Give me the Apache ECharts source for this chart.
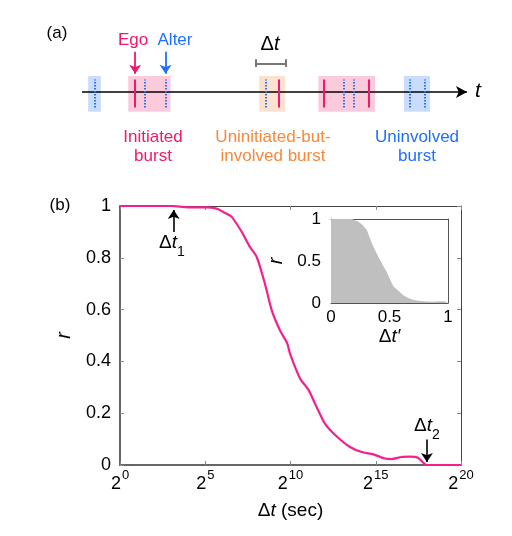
<!DOCTYPE html>
<html>
<head>
<meta charset="utf-8">
<script src="https://cdn.jsdelivr.net/npm/echarts@6/dist/echarts.min.js"></script>
<style>html,body{margin:0;padding:0;background:#fff}#c{width:512px;height:536px}</style>
</head>
<body>
<div id="c"></div>
<script>
// ---- Panel (b) main curve: x = log2(Δt), y = r ----
const mainLog2Dt = [0, 2, 3, 4, 5.08, 5.67, 6.06, 6.55, 7.14, 7.62, 8.02, 8.5, 8.9, 9.38, 9.81, 9.97, 10.56, 11.05, 11.53, 12.02, 12.7, 13.49, 14.18, 14.86, 15.54, 15.93, 16.52, 17.0, 17.5, 17.99, 19, 20];
const mainR      = [1, 1, 1, 0.995, 0.995, 0.99, 0.977, 0.958, 0.90, 0.842, 0.803, 0.70, 0.597, 0.52, 0.469, 0.43, 0.334, 0.291, 0.224, 0.16, 0.111, 0.0695, 0.05, 0.041, 0.025, 0.023, 0.031, 0.032, 0.027, 0, 0, 0];
// ---- Inset: normalized Δt' vs r ----
const insetDt = [0, 0.1, 0.18, 0.235, 0.27, 0.306, 0.349, 0.38, 0.42, 0.476, 0.532, 0.58, 0.617, 0.66, 0.70, 0.76, 0.816, 0.87, 0.93, 0.97, 1];
const insetR  = [1, 1, 1, 0.968, 0.93, 0.87, 0.71, 0.62, 0.51, 0.37, 0.20, 0.14, 0.092, 0.06, 0.04, 0.025, 0.017, 0.015, 0.02, 0.02, 0];
// ---- Tick values ----
const mainXTicks = [0, 5, 10, 15, 20];
const mainYTicks = [0, 0.2, 0.4, 0.6, 0.8, 1];
// ---- Annotation positions (data units) ----
const dt1Log2 = 3.15;
const dt2Log2 = 18;
// ---- Panel (a) timeline (arbitrary time units 0..100) ----
const egoTimes   = [13.8, 51.2, 62.8, 74.4];
const alterTimes = [3.4, 16.4, 21.7, 47.8, 68.1, 70.5, 85.0, 89.1];
const burstStart = [1.6, 12.0, 46.0, 61.4, 83.6];
const burstEnd   = [4.9, 23.0, 52.7, 76.1, 90.4];
const burstKind  = ['uninvolved', 'initiated', 'uninitiated', 'initiated', 'uninvolved'];
const egoArrowT = 13.8, alterArrowT = 21.7;
const dtBarStart = 45.1, dtBarEnd = 53.0;

const FONT = 'Liberation Sans, Arial, Helvetica, sans-serif';
const PINK = '#f0186c', CURVE = '#f5208e', BLUE = '#1f6fff', ORANGE = '#f5893c';
const boxColor = {initiated: '#fccbdb', uninitiated: '#fde1d0', uninvolved: '#c9dcfb'};

const supRich = {
  b: {fontSize: 18, fontFamily: FONT, color: '#000', lineHeight: 24, verticalAlign: 'bottom'},
  s: {fontSize: 13, fontFamily: FONT, color: '#000', lineHeight: 24, verticalAlign: 'top', padding: [0,0,0,1]}
};

const chart = echarts.init(document.getElementById('c'), null, {renderer: 'canvas'});

const option = {
  animation: false,
  backgroundColor: '#fff',
  textStyle: {fontFamily: FONT},
  grid: [
    {left: 120, top: 206, width: 341, height: 259},
    {left: 331, top: 219, width: 117, height: 84},
    {left: 82, top: 40.3, width: 385, height: 71.4}
  ],
  xAxis: [
    {gridIndex: 0, type: 'value', min: 0, max: 20, interval: 5, position: 'bottom',
     axisLine: {onZero: false, lineStyle: {color: '#666', width: 2}},
     axisTick: {inside: true, length: 4, lineStyle: {color: '#888'}},
     splitLine: {show: false},
     axisLabel: {margin: 4, formatter: v => '{b|2}{s|' + v + '}', rich: supRich},
     name: '{n|Δ}{i|t}{n| (sec)}', nameLocation: 'middle', nameGap: 36,
     nameTextStyle: {rich: {n: {fontSize: 19, fontFamily: FONT, color: '#000'}, i: {fontSize: 19, fontFamily: FONT, fontStyle: 'italic', color: '#000'}}}},
    {gridIndex: 0, type: 'value', min: 0, max: 20, interval: 5, position: 'top',
     axisLine: {onZero: false, lineStyle: {color: '#444', width: 1}},
     axisTick: {inside: true, length: 4, lineStyle: {color: '#888'}},
     axisLabel: {show: false}, splitLine: {show: false}},
    {gridIndex: 1, type: 'value', min: 0, max: 1, interval: 0.5, position: 'bottom',
     axisLine: {onZero: false, lineStyle: {color: '#555', width: 1}},
     axisTick: {show: false}, splitLine: {show: false},
     axisLabel: {margin: 6, fontSize: 17, color: '#000', formatter: v => String(v)},
     name: "{n|Δ}{i|t′}", nameLocation: 'middle', nameGap: 20,
     nameTextStyle: {rich: {n: {fontSize: 19, fontFamily: FONT, color: '#000'}, i: {fontSize: 19, fontFamily: FONT, fontStyle: 'italic', color: '#000'}}}},
    {gridIndex: 1, type: 'value', min: 0, max: 1, interval: 0.5, position: 'top',
     axisLine: {onZero: false, lineStyle: {color: '#555', width: 1}},
     axisTick: {show: false}, axisLabel: {show: false}, splitLine: {show: false}},
    {gridIndex: 2, type: 'value', min: 0, max: 100, show: false}
  ],
  yAxis: [
    {gridIndex: 0, type: 'value', min: 0, max: 1, interval: 0.2, position: 'left',
     axisLine: {show: true, onZero: false, lineStyle: {color: '#666', width: 2}},
     axisTick: {show: true, inside: true, length: 4, lineStyle: {color: '#888'}},
     splitLine: {show: false},
     axisLabel: {margin: 9, fontSize: 18, color: '#000', formatter: v => String(+v.toFixed(1))},
     name: 'r', nameLocation: 'middle', nameGap: 46, nameRotate: 90,
     nameTextStyle: {fontSize: 20, fontStyle: 'italic', color: '#000', fontFamily: FONT}},
    {gridIndex: 0, type: 'value', min: 0, max: 1, interval: 0.2, position: 'right',
     axisLine: {show: true, onZero: false, lineStyle: {color: '#444', width: 1}},
     axisTick: {show: true, inside: true, length: 4, lineStyle: {color: '#888'}},
     axisLabel: {show: false}, splitLine: {show: false}},
    {gridIndex: 1, type: 'value', min: 0, max: 1, interval: 0.5, position: 'left',
     axisLine: {show: true, onZero: false, lineStyle: {color: '#555', width: 1}},
     axisTick: {show: false}, splitLine: {show: false},
     axisLabel: {margin: 10, fontSize: 17, color: '#000', formatter: v => String(v)},
     name: 'r', nameLocation: 'middle', nameGap: 45, nameRotate: 90,
     nameTextStyle: {fontSize: 20, fontStyle: 'italic', color: '#000', fontFamily: FONT}},
    {gridIndex: 1, type: 'value', min: 0, max: 1, interval: 0.5, position: 'right',
     axisLine: {show: true, onZero: false, lineStyle: {color: '#555', width: 1}},
     axisTick: {show: false}, axisLabel: {show: false}, splitLine: {show: false}},
    {gridIndex: 2, type: 'value', min: 0, max: 4, show: false}
  ],
  series: [
    {type: 'line', xAxisIndex: 0, yAxisIndex: 0, smooth: 0.25, symbol: 'none', silent: true,
     lineStyle: {color: CURVE, width: 2.2}, z: 5,
     data: mainLog2Dt.map((x, i) => [x, mainR[i]]),
     markLine: {silent: true, symbol: ['none', 'arrow'], symbolSize: 9, label: {show: false},
       lineStyle: {color: '#000', width: 1.6, type: 'solid'},
       data: [
         [{coord: [dt1Log2, 0.9]}, {coord: [dt1Log2, 0.985]}],
         [{coord: [dt2Log2, 0.098]}, {coord: [dt2Log2, 0.012]}]
       ]}},
    {type: 'line', xAxisIndex: 2, yAxisIndex: 2, symbol: 'none', silent: true,
     lineStyle: {width: 0, color: '#bfbfbf'}, areaStyle: {color: '#bfbfbf', opacity: 1},
     data: insetDt.map((x, i) => [x, insetR[i]])},
    // burst boxes
    {type: 'line', xAxisIndex: 4, yAxisIndex: 4, data: [], silent: true, z: 1,
     markArea: {silent: true, label: {show: false},
       data: burstStart.map((s, i) => [
         {coord: [s, 0], itemStyle: {color: boxColor[burstKind[i]], opacity: 1}},
         {coord: [burstEnd[i], 2]}
       ])}},
    // timeline arrow
    {type: 'line', xAxisIndex: 4, yAxisIndex: 4, data: [], silent: true, z: 2,
     markLine: {silent: true, symbol: ['none', 'arrow'], symbolSize: [9, 11], label: {show: false},
       lineStyle: {color: '#000', width: 1.6, type: 'solid'},
       data: [[{coord: [0, 1.10]}, {coord: [100, 1.10]}]]}},
    // ego events
    {type: 'line', xAxisIndex: 4, yAxisIndex: 4, data: [], silent: true, z: 3,
     markLine: {silent: true, symbol: ['none', 'none'], label: {show: false},
       lineStyle: {color: PINK, width: 2, type: 'solid'},
       data: egoTimes.map(t => [{coord: [t, 0.24]}, {coord: [t, 1.81]}])}},
    // alter events
    {type: 'line', xAxisIndex: 4, yAxisIndex: 4, data: [], silent: true, z: 3,
     markLine: {silent: true, symbol: ['none', 'none'], label: {show: false},
       lineStyle: {color: '#2a74f0', width: 2, type: [1.5, 1.5]},
       data: alterTimes.map(t => [{coord: [t, 0.24]}, {coord: [t, 1.81]}])}},
    // ego / alter label arrows
    {type: 'line', xAxisIndex: 4, yAxisIndex: 4, data: [], silent: true, z: 3,
     markLine: {silent: true, symbol: ['none', 'arrow'], symbolSize: 9, label: {show: false},
       data: [
         [{coord: [egoArrowT, 3.36], lineStyle: {color: PINK, width: 1.8, type: 'solid'}}, {coord: [egoArrowT, 2.12]}],
         [{coord: [alterArrowT, 3.36], lineStyle: {color: BLUE, width: 1.8, type: 'solid'}}, {coord: [alterArrowT, 2.12]}]
       ]}},
    // Δt bracket
    {type: 'line', xAxisIndex: 4, yAxisIndex: 4, data: [], silent: true, z: 3,
     markLine: {silent: true, symbol: ['none', 'none'], label: {show: false},
       lineStyle: {color: '#777', width: 2, type: 'solid'},
       data: [
         [{coord: [dtBarStart, 2.71]}, {coord: [dtBarEnd, 2.71]}],
         [{coord: [dtBarStart, 2.5]}, {coord: [dtBarStart, 2.94]}],
         [{coord: [dtBarEnd, 2.5]}, {coord: [dtBarEnd, 2.94]}]
       ]}}
  ],
  graphic: [
    {type: 'text', x: 57, y: 33, style: {text: '(a)', fontSize: 17, fontFamily: FONT, fill: '#000', align: 'center', verticalAlign: 'middle'}},
    {type: 'text', x: 60, y: 205, style: {text: '(b)', fontSize: 17, fontFamily: FONT, fill: '#000', align: 'center', verticalAlign: 'middle'}},
    {type: 'text', x: 133, y: 40, style: {text: 'Ego', fontSize: 17, fontFamily: FONT, fill: PINK, align: 'center', verticalAlign: 'middle'}},
    {type: 'text', x: 175, y: 40, style: {text: 'Alter', fontSize: 17, fontFamily: FONT, fill: BLUE, align: 'center', verticalAlign: 'middle'}},
    {type: 'text', x: 270, y: 44, style: {text: '{n|Δ}{i|t}', align: 'center', verticalAlign: 'middle',
      rich: {n: {fontSize: 20, fontFamily: FONT, fill: '#000'}, i: {fontSize: 20, fontFamily: FONT, fontStyle: 'italic', fill: '#000'}}}},
    {type: 'text', x: 478, y: 91, style: {text: 't', fontSize: 21, fontStyle: 'italic', fontFamily: FONT, fill: '#000', align: 'center', verticalAlign: 'middle'}},
    {type: 'text', x: 153, y: 147, style: {text: 'Initiated\nburst', fontSize: 17, lineHeight: 19.5, fontFamily: FONT, fill: PINK, align: 'center', verticalAlign: 'middle'}},
    {type: 'text', x: 273, y: 147, style: {text: 'Uninitiated-but-\ninvolved burst', fontSize: 17, lineHeight: 19.5, fontFamily: FONT, fill: ORANGE, align: 'center', verticalAlign: 'middle'}},
    {type: 'text', x: 417, y: 147, style: {text: 'Uninvolved\nburst', fontSize: 17, lineHeight: 19.5, fontFamily: FONT, fill: BLUE, align: 'center', verticalAlign: 'middle'}},
    {type: 'text', x: 172, y: 246, style: {text: '{n|Δ}{i|t}{s|1}', align: 'center', verticalAlign: 'middle',
      rich: {n: {fontSize: 19, fontFamily: FONT, fill: '#000', lineHeight: 26, verticalAlign: 'top'},
             i: {fontSize: 19, fontFamily: FONT, fontStyle: 'italic', fill: '#000', lineHeight: 26, verticalAlign: 'top'},
             s: {fontSize: 14, fontFamily: FONT, fill: '#000', lineHeight: 26, verticalAlign: 'bottom'}}}},
    {type: 'text', x: 427, y: 429, style: {text: '{n|Δ}{i|t}{s|2}', align: 'center', verticalAlign: 'middle',
      rich: {n: {fontSize: 19, fontFamily: FONT, fill: '#000', lineHeight: 26, verticalAlign: 'top'},
             i: {fontSize: 19, fontFamily: FONT, fontStyle: 'italic', fill: '#000', lineHeight: 26, verticalAlign: 'top'},
             s: {fontSize: 14, fontFamily: FONT, fill: '#000', lineHeight: 26, verticalAlign: 'bottom'}}}}
  ]
};
chart.setOption(option);
</script>
</body>
</html>
